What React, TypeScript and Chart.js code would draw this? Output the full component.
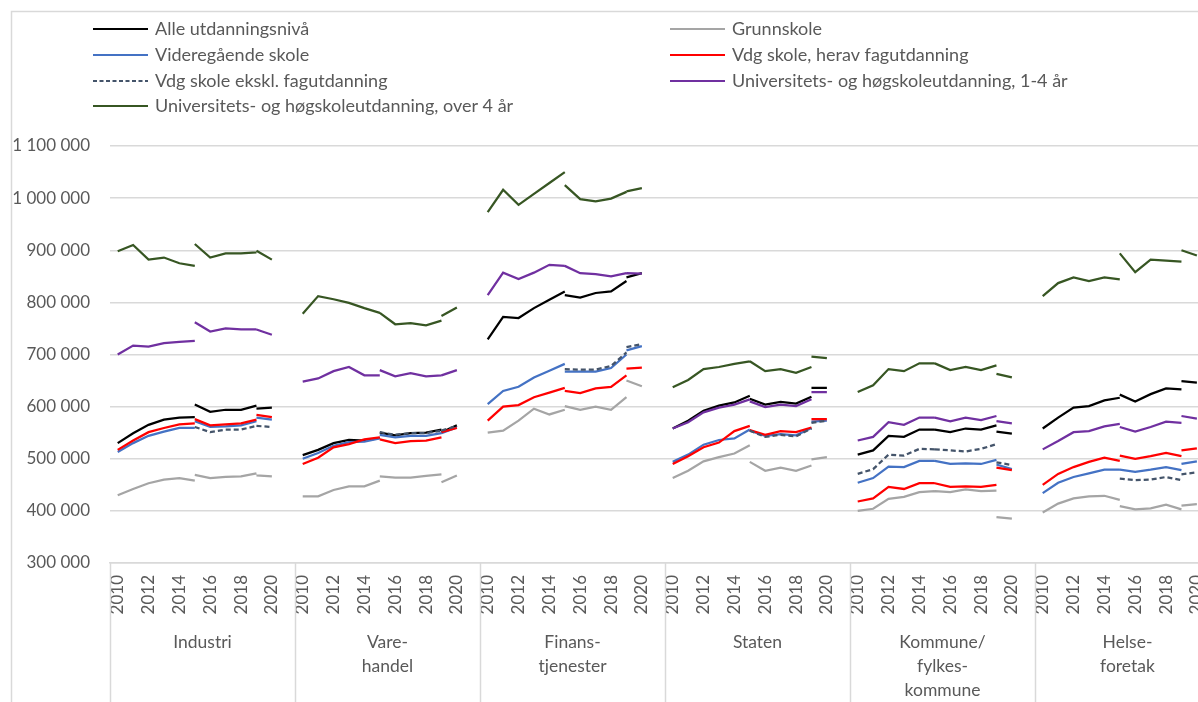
import React, { useEffect, useRef } from "react";
import { Chart, registerables } from "chart.js";

Chart.register(...registerables);

// Sectors (6 panels); each panel spans 12 slots: 2010..2020 plus one blank slot
const sectors = ["Industri", "Vare-\nhandel", "Finans-\ntjenester", "Staten", "Kommune/\nfylkes-\nkommune", "Helse-\nforetak"];
const years = ["2010", "2011", "2012", "2013", "2014", "2015", "2016", "2017", "2018", "2019", "2020"];
const yearTickIdx = [0, 2, 4, 6, 8, 10];
const yTicks = [300e3, 400e3, 500e3, 600e3, 700e3, 800e3, 900e3, 1000e3, 1100e3];

// Each level: three series breaks — 2010–2015, 2015–2019, 2019–2020; one row per sector
const alleA = [[530e3, 549e3, 565e3, 575e3, 579e3, 580e3], [507e3, 517e3, 530e3, 536e3, 535e3, 540e3], [729e3, 772e3, 770e3, 789e3, 805e3, 821e3], [558e3, 573e3, 592e3, 602e3, 608e3, 621e3], [508e3, 516e3, 544e3, 542e3, 556e3, 556e3], [558e3, 579e3, 598e3, 601e3, 612e3, 617e3]];
const alleB = [[604e3, 590e3, 594e3, 594e3, 602e3], [550e3, 545e3, 549e3, 550e3, 556e3], [814e3, 809e3, 818e3, 821e3, 841e3], [615e3, 604e3, 609e3, 606e3, 619e3], [556e3, 551e3, 558e3, 556e3, 564e3], [623e3, 610e3, 624e3, 635e3, 633e3]];
const alleC = [[596e3, 598e3], [551e3, 564e3], [848e3, 856e3], [636e3, 636e3], [552e3, 548e3], [649e3, 646e3]];

const grunnA = [[430e3, 442e3, 453e3, 460e3, 463e3, 458e3], [428e3, 428e3, 440e3, 447e3, 447e3, 458e3], [550e3, 554e3, 573e3, 596e3, 585e3, 594e3], [463e3, 477e3, 495e3, 503e3, 510e3, 526e3], [400e3, 404e3, 423e3, 427e3, 436e3, 438e3], [397e3, 414e3, 424e3, 428e3, 429e3, 421e3]];
const grunnB = [[469e3, 463e3, 465e3, 466e3, 472e3], [466e3, 464e3, 464e3, 467e3, 470e3], [601e3, 594e3, 600e3, 594e3, 618e3], [494e3, 477e3, 483e3, 477e3, 487e3], [438e3, 436e3, 441e3, 438e3, 439e3], [409e3, 403e3, 405e3, 412e3, 403e3]];
const grunnC = [[468e3, 466e3], [455e3, 468e3], [650e3, 639e3], [499e3, 503e3], [388e3, 385e3], [410e3, 413e3]];

const vgsA = [[513e3, 530e3, 544e3, 552e3, 559e3, 559e3], [500e3, 511e3, 525e3, 532e3, 533e3, 539e3], [605e3, 630e3, 638e3, 656e3, 669e3, 682e3], [494e3, 508e3, 527e3, 536e3, 539e3, 556e3], [454e3, 463e3, 485e3, 484e3, 496e3, 496e3], [434e3, 454e3, 465e3, 472e3, 479e3, 479e3]];
const vgsB = [[572e3, 561e3, 562e3, 564e3, 572e3], [546e3, 541e3, 544e3, 544e3, 549e3], [667e3, 667e3, 667e3, 674e3, 700e3], [554e3, 544e3, 547e3, 545e3, 559e3], [496e3, 490e3, 491e3, 490e3, 498e3], [479e3, 475e3, 479e3, 484e3, 478e3]];
const vgsC = [[579e3, 575e3], [549e3, 560e3], [708e3, 716e3], [571e3, 573e3], [489e3, 480e3], [490e3, 495e3]];

const fagA = [[517e3, 535e3, 551e3, 559e3, 566e3, 568e3], [490e3, 502e3, 522e3, 528e3, 537e3, 541e3], [573e3, 600e3, 603e3, 618e3, 627e3, 636e3], [490e3, 505e3, 522e3, 531e3, 553e3, 563e3], [418e3, 424e3, 446e3, 442e3, 453e3, 453e3], [450e3, 471e3, 484e3, 494e3, 502e3, 496e3]];
const fagB = [[576e3, 564e3, 566e3, 568e3, 575e3], [537e3, 530e3, 534e3, 535e3, 541e3], [630e3, 626e3, 635e3, 638e3, 660e3], [555e3, 546e3, 553e3, 551e3, 560e3], [453e3, 446e3, 447e3, 446e3, 450e3], [506e3, 500e3, 505e3, 511e3, 505e3]];
const fagC = [[584e3, 580e3], [551e3, 559e3], [673e3, 675e3], [576e3, 576e3], [483e3, 478e3], [516e3, 520e3]];

const ekskA = [null, null, null, null, [471e3, 480e3, 508e3, 506e3, 519e3, 518e3], null];
const ekskB = [[561e3, 551e3, 556e3, 556e3, 563e3], [551e3, 546e3, 549e3, 549e3, 554e3], [672e3, 671e3, 671e3, 678e3, 704e3], [554e3, 542e3, 546e3, 543e3, 558e3], [518e3, 516e3, 514e3, 519e3, 528e3], [462e3, 459e3, 460e3, 465e3, 459e3]];
const ekskC = [[563e3, 561e3], [554e3, 563e3], [714e3, 720e3], [569e3, 573e3], [493e3, 488e3], [470e3, 474e3]];

const uni14A = [[700e3, 717e3, 715e3, 722e3, 724e3, 726e3], [648e3, 654e3, 668e3, 676e3, 660e3, 660e3], [814e3, 857e3, 845e3, 857e3, 872e3, 870e3], [558e3, 570e3, 589e3, 598e3, 604e3, 614e3], [535e3, 542e3, 570e3, 565e3, 579e3, 579e3], [518e3, 534e3, 551e3, 553e3, 562e3, 567e3]];
const uni14B = [[762e3, 744e3, 750e3, 748e3, 748e3], [670e3, 658e3, 664e3, 658e3, 660e3], [870e3, 856e3, 854e3, 850e3, 856e3], [610e3, 599e3, 604e3, 601e3, 614e3], [579e3, 572e3, 579e3, 574e3, 582e3], [561e3, 552e3, 561e3, 571e3, 569e3]];
const uni14C = [[748e3, 738e3], [660e3, 670e3], [856e3, 855e3], [628e3, 628e3], [572e3, 568e3], [582e3, 577e3]];

const uni4A = [[898e3, 910e3, 882e3, 886e3, 875e3, 870e3], [778e3, 812e3, 806e3, 799e3, 789e3, 780e3], [973e3, 1016e3, 987e3, 1008e3, 1029e3, 1050e3], [637e3, 651e3, 672e3, 676e3, 682e3, 687e3], [628e3, 641e3, 672e3, 668e3, 683e3, 683e3], [812e3, 837e3, 848e3, 841e3, 848e3, 844e3]];
const uni4B = [[912e3, 886e3, 894e3, 894e3, 896e3], [780e3, 758e3, 760e3, 756e3, 765e3], [1025e3, 998e3, 994e3, 999e3, 1012e3], [687e3, 668e3, 672e3, 665e3, 676e3], [683e3, 670e3, 676e3, 670e3, 679e3], [894e3, 858e3, 882e3, 880e3, 878e3]];
const uni4C = [[899e3, 882e3], [774e3, 790e3], [1013e3, 1019e3], [696e3, 693e3], [663e3, 656e3], [900e3, 890e3]];

const levels = [
  { label: "Alle utdanningsnivå", color: "#000000", dash: [] as number[], parts: [alleA, alleB, alleC] },
  { label: "Grunnskole", color: "#A5A5A5", dash: [] as number[], parts: [grunnA, grunnB, grunnC] },
  { label: "Videregående skole", color: "#4472C4", dash: [] as number[], parts: [vgsA, vgsB, vgsC] },
  { label: "Vdg skole, herav fagutdanning", color: "#FF0000", dash: [] as number[], parts: [fagA, fagB, fagC] },
  { label: "Vdg skole ekskl. fagutdanning", color: "#44546A", dash: [5, 3], parts: [ekskA, ekskB, ekskC] },
  { label: "Universitets- og høgskoleutdanning, 1-4 år", color: "#7030A0", dash: [] as number[], parts: [uni14A, uni14B, uni14C] },
  { label: "Universitets- og høgskoleutdanning, over 4 år", color: "#375623", dash: [] as number[], parts: [uni4A, uni4B, uni4C] },
];

const SLOTS = 12;
const partStart = [0, 5, 9];

function buildPoints(parts: (number[] | null)[][]) {
  const pts: { x: number; y: number | null }[] = [];
  for (let g = 0; g < sectors.length; g++) {
    parts.forEach((part, p) => {
      const vals = part[g];
      if (!vals) return;
      vals.forEach((v, i) => pts.push({ x: g * SLOTS + partStart[p] + i, y: v }));
      pts.push({ x: g * SLOTS + partStart[p] + vals.length - 1, y: null });
    });
  }
  return pts;
}

const TXT = "#595959";
const GRID = "#D9D9D9";
const FONT = "Lato";

const legendPos = [
  { x: 93, w: 55, tx: 155, y: 29 },
  { x: 670, w: 55, tx: 732, y: 29 },
  { x: 93, w: 55, tx: 155, y: 55 },
  { x: 670, w: 55, tx: 732, y: 55 },
  { x: 93, w: 55, tx: 155, y: 81 },
  { x: 670, w: 55, tx: 732, y: 81 },
  { x: 93, w: 55, tx: 155, y: 106 },
];

const decor = {
  id: "decor",
  afterDraw(chart: any) {
    const ctx = chart.ctx as CanvasRenderingContext2D;
    const xs = chart.scales.x;
    const area = chart.chartArea;
    ctx.save();
    // frame
    ctx.strokeStyle = GRID;
    ctx.lineWidth = 1.5;
    ctx.beginPath();
    ctx.moveTo(11.5, chart.height);
    ctx.lineTo(11.5, 11.5);
    ctx.lineTo(chart.width, 11.5);
    ctx.stroke();
    // group separators
    for (let g = 0; g <= sectors.length; g++) {
      const x = Math.round(xs.getPixelForValue(g * SLOTS - 0.5)) + 0.5;
      ctx.beginPath();
      ctx.moveTo(x, area.bottom);
      ctx.lineTo(x, chart.height);
      ctx.stroke();
    }
    // group labels
    ctx.fillStyle = TXT;
    ctx.font = `17.5px ${FONT}`;
    ctx.textAlign = "center";
    ctx.textBaseline = "middle";
    sectors.forEach((s, g) => {
      const cx = (xs.getPixelForValue(g * SLOTS - 0.5) + xs.getPixelForValue((g + 1) * SLOTS - 0.5)) / 2;
      s.split("\n").forEach((line, k) => ctx.fillText(line, cx, 642 + k * 24));
    });
    // legend
    ctx.font = `18px ${FONT}`;
    ctx.textAlign = "left";
    levels.forEach((lv, i) => {
      const p = legendPos[i];
      ctx.strokeStyle = lv.color;
      ctx.lineWidth = 2;
      ctx.setLineDash(lv.dash.length ? [4, 2.5] : []);
      ctx.beginPath();
      ctx.moveTo(p.x, p.y);
      ctx.lineTo(p.x + p.w, p.y);
      ctx.stroke();
      ctx.setLineDash([]);
      ctx.fillStyle = TXT;
      ctx.fillText(lv.label, p.tx, p.y);
    });
    ctx.restore();
  },
};

export default function App() {
  const ref = useRef<HTMLCanvasElement>(null);
  useEffect(() => {
    if (!ref.current) return;
    Chart.defaults.font.family = FONT;
    const chart = new Chart(ref.current, {
      type: "line",
      data: {
        datasets: levels.map((lv, i) => ({
          label: lv.label,
          data: buildPoints(lv.parts as any),
          borderColor: lv.color,
          backgroundColor: lv.color,
          borderWidth: 2.25,
          borderDash: lv.dash,
          pointRadius: 0,
          tension: 0,
          spanGaps: false,
          order: 20 - i,
        })),
      },
      options: {
        animation: false,
        responsive: false,
        parsing: { xAxisKey: "x", yAxisKey: "y" } as any,
        layout: { padding: { top: 146, right: 20, left: 0, bottom: 0 } },
        plugins: { legend: { display: false }, tooltip: { enabled: false } },
        scales: {
          x: {
            type: "linear",
            min: -0.5,
            max: sectors.length * SLOTS - 0.5,
            grid: { display: false, drawTicks: false },
            border: { display: true, color: GRID, width: 1.5 },
            afterBuildTicks: (axis: any) => {
              const t: { value: number }[] = [];
              sectors.forEach((_, g) => yearTickIdx.forEach((k) => t.push({ value: g * SLOTS + k })));
              axis.ticks = t;
            },
            afterFit: (axis: any) => {
              axis.height = 139;
            },
            ticks: {
              autoSkip: false,
              minRotation: 90,
              maxRotation: 90,
              padding: 12,
              color: TXT,
              font: { size: 17, family: FONT },
              callback: (v: any) => years[Math.round(Number(v)) % SLOTS] ?? "",
            },
          },
          y: {
            min: 300e3,
            max: 1100e3,
            afterBuildTicks: (axis: any) => {
              axis.ticks = yTicks.map((v) => ({ value: v }));
            },
            afterFit: (axis: any) => {
              axis.width = 110;
            },
            grid: { color: GRID, lineWidth: 1.5, drawTicks: false },
            border: { display: false },
            ticks: {
              padding: 20,
              color: TXT,
              font: { size: 17, family: FONT },
              callback: (v: any) => String(v).replace(/\B(?=(\d{3})+(?!\d))/g, " "),
            },
          },
        },
      },
      plugins: [decor],
    });
    return () => chart.destroy();
  }, []);
  return (
    <div style={{ position: "absolute", left: 0, top: 0, width: 1198, height: 702, overflow: "hidden", background: "#fff" }}>
      <canvas ref={ref} width={1240} height={702} style={{ display: "block" }} />
    </div>
  );
}
